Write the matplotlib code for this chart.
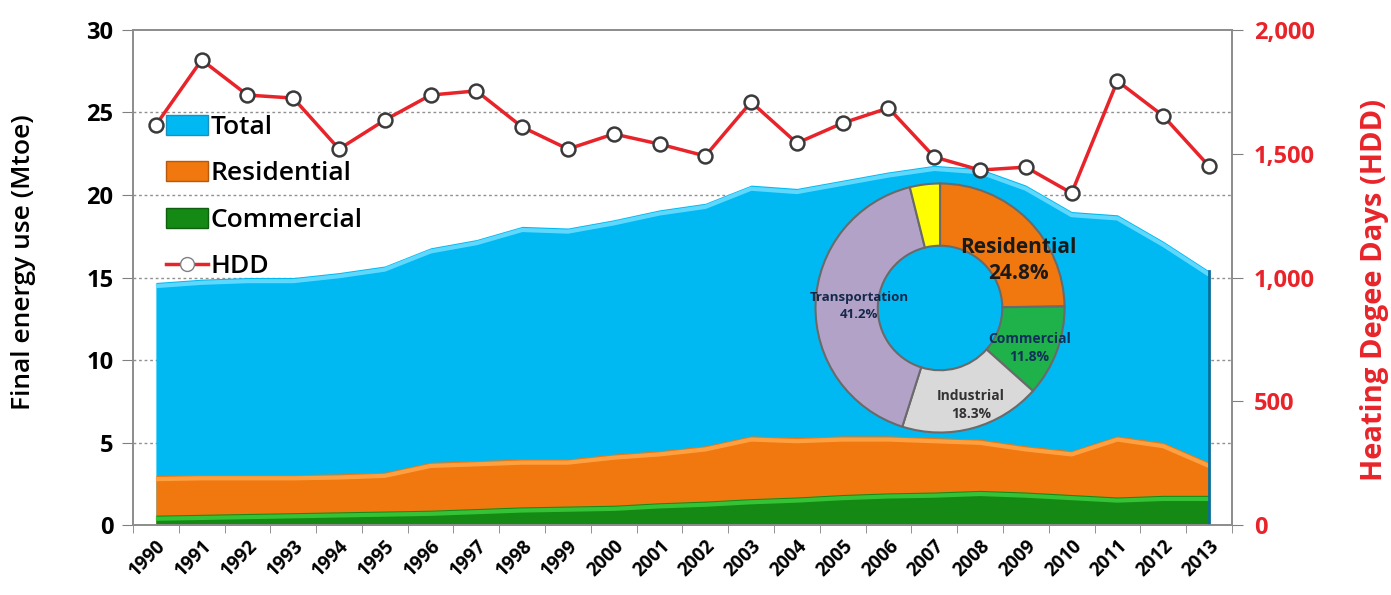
import matplotlib.pyplot as plt
import matplotlib.patches as mpatches
from matplotlib.lines import Line2D
from matplotlib.ticker import FuncFormatter
import numpy as np

plt.rcParams['font.family'] = ['Open Sans', 'DejaVu Sans']

years = [str(y) for y in range(1990, 2014)]

# final energy use, Mtoe
total = [14.7, 14.9, 15.0, 15.0, 15.3, 15.7, 16.8, 17.3, 18.1, 18.0, 18.5, 19.1,
         19.5, 20.6, 20.4, 20.9, 21.4, 21.8, 21.6, 20.6, 19.0, 18.8, 17.2, 15.4]
residential = [3.0, 3.05, 3.05, 3.05, 3.1, 3.2, 3.8, 3.9, 4.0, 4.0, 4.3, 4.5,
               4.8, 5.4, 5.3, 5.4, 5.4, 5.3, 5.2, 4.8, 4.5, 5.4, 5.0, 3.8]
commercial = [0.6, 0.65, 0.7, 0.75, 0.8, 0.85, 0.9, 1.0, 1.1, 1.15, 1.2, 1.35,
              1.45, 1.6, 1.7, 1.85, 1.95, 2.0, 2.1, 2.0, 1.85, 1.7, 1.8, 1.8]

# heating degree days
hdd = [1616, 1879, 1737, 1725, 1519, 1636, 1737, 1754, 1608, 1519, 1580, 1539,
       1491, 1709, 1543, 1624, 1685, 1487, 1434, 1446, 1341, 1794, 1653, 1450]

# 2013 share of final energy use by sector
share_labels = ['Residential', 'Commercial', 'Industrial', 'Transportation', 'Others']
share_values = [24.8, 11.8, 18.3, 41.2, 3.9]

c_total, c_total_hi = '#00B9F2', '#5FD8FF'
c_res, c_res_hi = '#F0780F', '#FFA040'
c_com, c_com_hi = '#148A14', '#36C236'
c_red = '#E8242A'

fig = plt.figure(figsize=(13.91, 5.95), dpi=100)
ax = fig.add_axes([0.0956, 0.1176, 0.7900, 0.8320])
x = np.arange(len(years))

for vals, col, hi in [(total, c_total, c_total_hi),
                      (residential, c_res, c_res_hi),
                      (commercial, c_com, c_com_hi)]:
    ax.fill_between(x, 0, vals, color=col, lw=0, zorder=2)
    ax.plot(x, np.array(vals) - 0.22, color=hi, lw=3, zorder=2.5,
            solid_capstyle='butt')
ax.plot([x[-1], x[-1]], [0, total[-1]], color='#0A6E9A', lw=2, zorder=2.6)

ax.set_xlim(-0.5, len(years) - 0.5)
ax.set_ylim(0, 30)
ax.set_yticks(range(0, 31, 5))
ax.set_xticks(x)
ax.set_xticklabels(years, rotation=45, ha='right', rotation_mode='anchor',
                   fontsize=13.5, fontweight='bold')
ax.set_xticks(np.arange(-0.5, len(years)), minor=True)
ax.tick_params(axis='x', which='major', length=0, pad=8)
ax.tick_params(axis='x', which='minor', length=6, color='#808080')
ax.tick_params(axis='y', length=8, color='#808080', labelsize=17, pad=6)
for t in ax.get_yticklabels():
    t.set_fontweight('bold')
ax.set_ylabel('Final energy use (Mtoe)', fontsize=19, fontweight='semibold')
ax.yaxis.set_label_coords(-0.088, 0.53)
for yv in range(5, 30, 5):
    ax.axhline(yv, color='#909090', lw=1, ls=(0, (2, 2)), zorder=1)
for s in ax.spines.values():
    s.set_color('#8C8C8C')
    s.set_linewidth(1.2)

ax2 = ax.twinx()
ax2.plot(x, hdd, color=c_red, lw=2.5, marker='o', markersize=10,
         markerfacecolor='white', markeredgecolor='#3A3A3A', markeredgewidth=1.8,
         zorder=5)
ax2.set_ylim(0, 2000)
ax2.set_yticks(range(0, 2001, 500))
ax2.yaxis.set_major_formatter(FuncFormatter(lambda v, p: f'{int(v):,}'))
ax2.tick_params(axis='y', length=8, color='#808080', labelsize=17,
                labelcolor=c_red, pad=8)
for t in ax2.get_yticklabels():
    t.set_fontweight('bold')
ax2.set_ylabel('Heating Degee Days (HDD)', fontsize=21, fontweight='bold',
               color=c_red)
ax2.yaxis.set_label_coords(1.117, 0.475)
for s in ax2.spines.values():
    s.set_color('#8C8C8C')
    s.set_linewidth(1.2)

handles = [mpatches.Patch(facecolor=c_total, edgecolor='#1A8FC0'),
           mpatches.Patch(facecolor=c_res, edgecolor='#B8580C'),
           mpatches.Patch(facecolor=c_com, edgecolor='#0E600E'),
           Line2D([0], [0], color=c_red, lw=2.5, marker='o', markersize=10,
                  markerfacecolor='white', markeredgecolor='#808080')]
leg = ax2.legend(handles, ['Total', 'Residential', 'Commercial', 'HDD'],
                 loc='upper left', bbox_to_anchor=(0.02, 0.85), frameon=False,
                 prop={'size': 19, 'weight': 'semibold'}, handlelength=1.6,
                 handleheight=0.8, handletextpad=0.1, labelspacing=0.8,
                 borderaxespad=0)
leg.set_zorder(10)

# donut of sector shares
pax = fig.add_axes([0.5845, 0.2689, 0.1826, 0.4269])
pie_colors = [c_res, '#1FB24A', '#D9D9D9', '#B3A2C7', '#FFFF00']
pax.pie(share_values, colors=pie_colors, startangle=90, counterclock=False,
        wedgeprops=dict(width=0.5, edgecolor='#6A6A6A', linewidth=1.5))
pax.set_xlim(-1.02, 1.02)
pax.set_ylim(-1.02, 1.02)
pax.set_aspect('auto')
pax.axis('off')

pax.text(0.63, 0.38, 'Residential\n24.8%', ha='center', va='center',
         fontsize=15, fontweight='bold', color='#1A1A1A', linespacing=1.3)
pax.text(0.72, -0.32, 'Commercial\n11.8%', ha='center', va='center',
         fontsize=10, fontweight='bold', color='#10305A', linespacing=1.4)
pax.text(0.25, -0.78, 'Industrial\n18.3%', ha='center', va='center',
         fontsize=10, fontweight='bold', color='#333333', linespacing=1.4)
pax.text(-0.65, 0.02, 'Transportation\n41.2%', ha='center', va='center',
         fontsize=9.5, fontweight='bold', color='#14284A', linespacing=1.4)

fig.savefig('out.png', dpi=100)
